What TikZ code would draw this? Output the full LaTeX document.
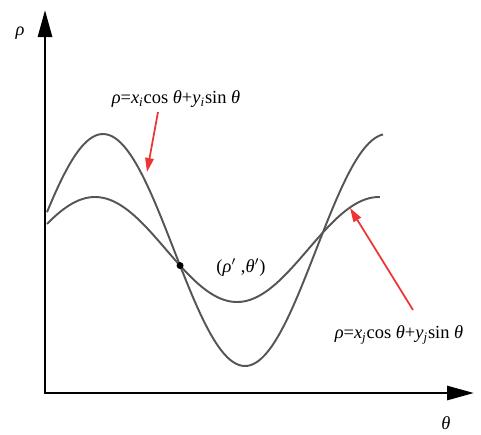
\documentclass[tikz,border=0pt]{standalone}
\usepackage{fontspec}
\setmainfont{Liberation Serif}
\usepackage{tikz}
\usetikzlibrary{arrows.meta,intersections}
\definecolor{CurveGray}{HTML}{555555}
\definecolor{PointerRed}{HTML}{EE3535}

\begin{document}
\begin{tikzpicture}[x=0.02cm,y=-0.02cm,
    every node/.style={font=\fontsize{10.5}{12}\selectfont},
    axis/.style={{Triangle[length=0.54cm,width=0.28cm]}-{Triangle[length=0.54cm,width=0.28cm]},line width=1.6pt},
    curve/.style={CurveGray,line width=1.1pt},
    ptr/.style={-{Triangle[length=0.28cm,width=0.17cm]},PointerRed,line width=1pt}]
  \useasboundingbox (0,0) rectangle (481,434);
  % axes
  \coordinate (o) at (45,393);
  \coordinate (ytop) at (45,10);
  \coordinate (xend) at (474,393);
  \draw[axis] (ytop) -- (o) -- (xend);
  \node (rholab) at (20,33) {\textit{ρ}};
  \node (thetalab) at (446,423) {\textit{θ}};
  % the two sinusoids
  \draw[curve,name path=ci] plot[domain=47:383,samples=120,smooth]
    (\x,{250-116*cos((\x-103)/142*180)});
  \draw[curve,name path=cj] plot[domain=47:380,samples=120,smooth]
    (\x,{249.5-52.5*cos((\x-95)/142*180)});
  \path[name intersections={of=ci and cj,sort by=ci,name=cut}];
  \node[circle,fill,inner sep=0pt,minimum size=0.14cm] (pt) at (cut-1) {};
  \node (ptlab) at (241,268) {(\textit{ρ}$'$ ,\textit{θ}$'$)};
  % labels with pointers
  \node (labi) at (176,99)
    {\textit{ρ}=\textit{x}\textsubscript{\textit{i}}cos \textit{θ}+\textit{y}\textsubscript{\textit{i}}sin \textit{θ}};
  \node (labj) at (399,335)
    {\textit{ρ}=\textit{x}\textsubscript{\textit{j}}cos \textit{θ}+\textit{y}\textsubscript{\textit{j}}sin \textit{θ}};
  \coordinate (si) at (158,112);
  \coordinate (ti) at (147,172);
  \coordinate (sj) at (413,310);
  \coordinate (tj) at (350,208);
  \draw[ptr] (si) -- (ti);
  \draw[ptr] (sj) -- (tj);
\end{tikzpicture}
\end{document}
